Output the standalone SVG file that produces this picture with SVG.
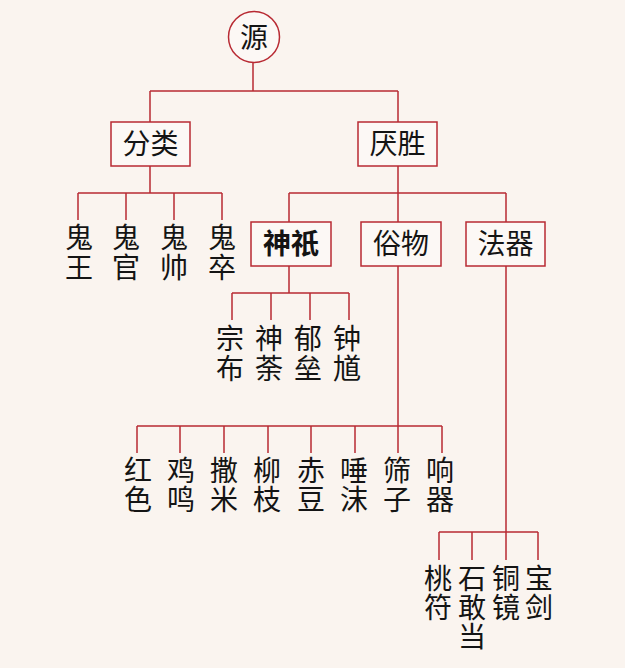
<svg xmlns="http://www.w3.org/2000/svg" width="625" height="668" viewBox="0 0 625 668">
<style>
.bg{fill:#faf4ef}
.ln{fill:none;stroke:#b82a33;stroke-width:1.5}
.box{fill:#fcf8f5;stroke:#b82a33;stroke-width:1.5}
text{font-family:"Noto Sans CJK SC","Noto Sans CJK TC",sans-serif;font-size:28px;fill:#141414;text-anchor:middle}
.b{font-weight:bold}
</style>
<rect class="bg" x="0" y="0" width="625" height="668"/>
<g id="connectors">
<path class="ln" d="M253 63V91M150 91H398M150 91V122M398 91V122"/>
<path class="ln" d="M150 166V193M78 193H222M78 193V220M126 193V220M174 193V220M222 193V220"/>
<path class="ln" d="M398 166V193M289 193H506M289 193V222M398 193V222M506 193V222"/>
<path class="ln" d="M289 266V293M232 293H349M232 293V320M271 293V320M310 293V320M349 293V320"/>
<path class="ln" d="M398 266V426M137 426H442M137 426V453M180 426V453M224 426V453M268 426V453M311 426V453M355 426V453M398 426V453M442 426V453"/>
<path class="ln" d="M506 266V532M439 532H538M439 532V560M472 532V560M506 532V560M538 532V560"/>
</g>
<g id="yuan"><circle cx="254" cy="37" r="25.5" fill="#fcf8f5" stroke="#b82a33" stroke-width="1.5"/><text x="254" y="48">源</text></g>
<g id="fenlei"><rect class="box" x="111" y="122" width="79" height="44"/><text x="150.5" y="154">分类</text></g>
<g id="yansheng"><rect class="box" x="358" y="122" width="79" height="44"/><text x="397.5" y="154">厌胜</text></g>
<g id="guiwang"><text x="79" y="248">鬼</text><text x="79" y="278">王</text></g>
<g id="guiguan"><text x="126" y="248">鬼</text><text x="126" y="278">官</text></g>
<g id="guishuai"><text x="174" y="248">鬼</text><text x="174" y="278">帅</text></g>
<g id="guizu"><text x="222" y="248">鬼</text><text x="222" y="278">卒</text></g>
<g id="shenqi"><rect class="box" x="251" y="222" width="80" height="44"/><text class="b" x="291" y="254">神祇</text></g>
<g id="suwu"><rect class="box" x="361" y="222" width="80" height="44"/><text x="401" y="254">俗物</text></g>
<g id="faqi"><rect class="box" x="466" y="222" width="79" height="44"/><text x="505.5" y="254">法器</text></g>
<g id="zongbu"><text x="230" y="349">宗</text><text x="230" y="379">布</text></g>
<g id="shentu"><text x="269" y="349">神</text><text x="269" y="379">荼</text></g>
<g id="yulei"><text x="308" y="349">郁</text><text x="308" y="379">垒</text></g>
<g id="zhongkui"><text x="347" y="349">钟</text><text x="347" y="379">馗</text></g>
<g id="hongse"><text x="138" y="481">红</text><text x="138" y="510">色</text></g>
<g id="jiming"><text x="181" y="481">鸡</text><text x="181" y="510">鸣</text></g>
<g id="sami"><text x="224" y="481">撒</text><text x="224" y="510">米</text></g>
<g id="liuzhi"><text x="267" y="481">柳</text><text x="267" y="510">枝</text></g>
<g id="chidou"><text x="311" y="481">赤</text><text x="311" y="510">豆</text></g>
<g id="tuomo"><text x="354" y="481">唾</text><text x="354" y="510">沫</text></g>
<g id="shaizi"><text x="397" y="481">筛</text><text x="397" y="510">子</text></g>
<g id="xiangqi"><text x="440" y="481">响</text><text x="440" y="510">器</text></g>
<g id="taofu"><text x="438" y="589">桃</text><text x="438" y="618">符</text></g>
<g id="shigandang"><text x="472" y="589">石</text><text x="472" y="618">敢</text><text x="472" y="647">当</text></g>
<g id="tongjing"><text x="506" y="589">铜</text><text x="506" y="618">镜</text></g>
<g id="baojian"><text x="539" y="589">宝</text><text x="539" y="618">剑</text></g>
</svg>
